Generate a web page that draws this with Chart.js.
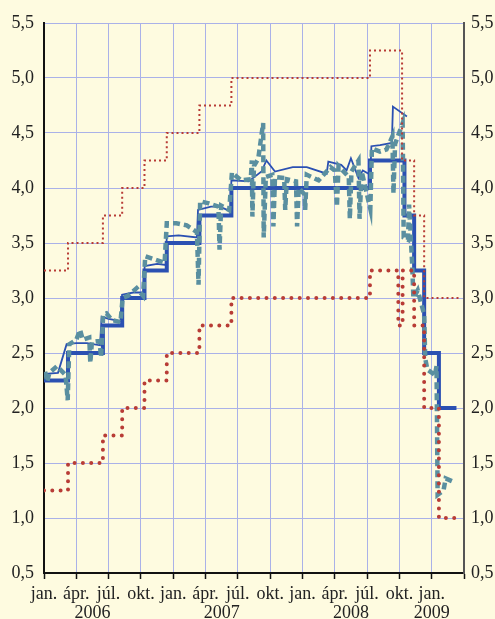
<!DOCTYPE html>
<html>
<head>
<meta charset="utf-8">
<script src="https://cdn.jsdelivr.net/npm/chart.js@4.4.0/dist/chart.umd.min.js"></script>
<style>
  html, body { margin: 0; padding: 0; background: #fefbe0; }
</style>
</head>
<body>
<canvas id="chart" width="495" height="619"></canvas>
<script>
// x values are months since 1 Jan 2006
var monthNames = ['jan.', 'ápr.', 'júl.', 'okt.'];
var years = [2006, 2007, 2008, 2009];
var yTicks = [0.5, 1, 1.5, 2, 2.5, 3, 3.5, 4, 4.5, 5, 5.5];

// main refinancing rate (step)
var mroM = [0, 2.23, 5.47, 7.26, 9.33, 11.4, 14.43, 17.4, 30.27, 33.47, 34.37, 35.3, 36.67, 38.3];
var mroV = [2.25, 2.5, 2.75, 3.0, 3.25, 3.5, 3.75, 4.0, 4.25, 3.75, 3.25, 2.5, 2.0, 2.0];

// marginal lending facility (upper corridor)
var mlfM = [0, 2.23, 5.47, 7.26, 9.33, 11.4, 14.43, 17.4, 30.27, 33.25, 34.37, 35.3, 38.5];
var mlfV = [3.25, 3.5, 3.75, 4.0, 4.25, 4.5, 4.75, 5.0, 5.25, 4.25, 3.75, 3.0, 3.0];

// deposit facility (lower corridor)
var dfM = [0, 2.23, 5.47, 7.26, 9.33, 11.4, 14.43, 17.4, 30.27, 32.9, 33.3, 34.37, 35.3, 36.67, 38.2];
var dfV = [1.25, 1.5, 1.75, 2.0, 2.25, 2.5, 2.75, 3.0, 3.25, 2.75, 3.25, 2.75, 2.0, 1.0, 1.0];

// marginal tender rate (thin line)
var mrgM = [0.1, 1.3, 2.1, 3.0, 4.0, 5.2, 5.35, 6.0, 7.1, 7.25, 8.3, 9.2, 9.35, 10.5, 11.3, 11.4, 12.5, 14.2, 14.3, 15.5,
            16.3, 17.3, 17.4, 19.0, 20.2, 20.65, 21.45, 23.1, 24.4, 26.25, 26.4, 27.6, 28.1, 28.5, 29.2, 29.6, 30.3, 30.4, 31.2, 32.3,
            32.4, 33.7];
var mrgV = [2.31, 2.32, 2.58, 2.59, 2.59, 2.57, 2.83, 2.81, 2.79, 3.03, 3.05, 3.05, 3.29, 3.31, 3.30, 3.56, 3.57, 3.55, 3.80, 3.83,
            3.83, 3.79, 4.07, 4.06, 4.15, 4.25, 4.15, 4.19, 4.19, 4.13, 4.24, 4.21, 4.16, 4.27, 4.09, 4.16, 4.12, 4.38, 4.39, 4.41,
            4.74, 4.65];

// overnight rate (dashed)
var eonM = [0.1, 0.3, 0.5, 1.2, 2.0, 2.2, 2.35, 3.0, 3.35, 3.6, 4.2, 4.3, 4.45, 5.15, 5.3, 5.5, 5.8, 6.3, 7.1, 7.3,
            7.8, 8.6, 9.2, 9.4, 10.3, 11.2, 11.4, 12.3, 13.25, 14.2, 14.35, 14.5, 15.3, 16.2, 16.3, 16.45, 17.2, 17.45, 18.3, 19.2,
            19.3, 19.35, 19.5, 19.9, 20.35, 20.4, 20.6, 21.2, 21.3, 21.45, 22.3, 22.4, 22.55, 23.4, 23.5, 23.65, 24.2, 24.25, 24.4, 25.5,
            26.6, 27.0, 27.2, 27.35, 28.3, 28.4, 28.55, 29.2, 29.3, 29.5, 30.3, 30.45, 31.2, 31.8, 32.35, 32.45, 32.6, 33.3, 33.4, 33.8,
            33.9, 34.2, 34.3, 34.7, 35.3, 35.4, 35.6, 36.3, 36.45, 36.55, 37.1, 37.3, 38.0];
var eonV = [2.33, 2.24, 2.32, 2.38, 2.30, 2.07, 2.58, 2.62, 2.71, 2.62, 2.64, 2.41, 2.60, 2.61, 2.46, 2.85, 2.86, 2.80, 2.78, 3.00,
            3.02, 3.09, 3.02, 3.38, 3.35, 3.32, 3.68, 3.68, 3.66, 3.60, 3.12, 3.88, 3.86, 3.83, 3.44, 3.84, 3.80, 4.14, 4.07, 4.08,
            4.25, 3.74, 4.20, 4.27, 4.59, 3.55, 4.10, 4.12, 3.65, 4.10, 4.09, 3.80, 4.08, 4.06, 3.65, 4.00, 3.94, 3.80, 4.12, 4.07,
            4.19, 4.16, 3.83, 4.20, 4.10, 3.72, 4.15, 4.25, 3.72, 4.15, 3.81, 4.36, 4.33, 4.35, 4.47, 3.95, 4.40, 4.59, 3.55, 3.53,
            3.85, 3.28, 3.00, 3.07, 2.85, 2.45, 2.35, 2.30, 2.38, 1.21, 1.25, 1.36, 1.33];

function pts(xs, ys) {
  return xs.map(function (m, i) { return { x: m, y: ys[i] }; });
}
function fmt(v) {
  return v.toFixed(1).replace('.', ',');
}

var red = '#b83c36';
var blue = '#2b50b2';
var teal = '#5a8fa0';
var gridColor = '#aab1e8';
var font = { family: '"Liberation Serif", "Times New Roman", serif', size: 18 };

var yearLabels = {
  id: 'yearLabels',
  afterDraw: function (chart) {
    var xs = chart.scales.x;
    var ctx = chart.ctx;
    ctx.save();
    ctx.font = '18px "Liberation Serif", serif';
    ctx.fillStyle = '#222';
    ctx.textAlign = 'center';
    ctx.textBaseline = 'alphabetic';
    years.forEach(function (yr) {
      var first = (yr - 2006) * 12;
      var last = Math.min(first + 9, 36);
      var cx = (xs.getPixelForValue(first) + xs.getPixelForValue(last)) / 2;
      ctx.fillText(String(yr), cx, 618);
    });
    ctx.restore();
  }
};

var ctx = document.getElementById('chart').getContext('2d');
var chart = new Chart(ctx, {
  type: 'line',
  data: {
    datasets: [
      { data: pts(dfM, dfV), stepped: true, borderColor: red, borderWidth: 4, borderDash: [0, 8.3],
        borderCapStyle: 'round', pointRadius: 0, order: 0 },
      { data: pts(mlfM, mlfV), stepped: true, borderColor: red, borderWidth: 2, borderDash: [2, 3],
        pointRadius: 0, order: 1 },
      { data: pts(eonM, eonV), borderColor: teal, borderWidth: 4.5, borderDash: [7, 4],
        pointRadius: 0, tension: 0, order: 2 },
      { data: pts(mrgM, mrgV), borderColor: blue, borderWidth: 1.8, pointRadius: 0, tension: 0, order: 3 },
      { data: pts(mroM, mroV), stepped: true, borderColor: blue, borderWidth: 4, pointRadius: 0, order: 4 }
    ]
  },
  options: {
    responsive: false,
    animation: false,
    devicePixelRatio: 1,
    layout: { padding: { top: 23, left: 0, right: 0, bottom: 0 } },
    plugins: { legend: { display: false }, tooltip: { enabled: false } },
    scales: {
      x: {
        type: 'linear', min: 0, max: 39,
        afterFit: function (s) { s.height = 46; },
        ticks: {
          stepSize: 3, autoSkip: false, maxRotation: 0, padding: 4, color: '#222', font: font,
          callback: function (v) { return v >= 39 ? '' : monthNames[(v % 12) / 3]; }
        },
        grid: { color: gridColor, lineWidth: 1, tickLength: 6, tickColor: '#111', tickWidth: 1.5 },
        border: { color: '#111', width: 2 }
      },
      y: {
        position: 'left', min: 0.5, max: 5.5,
        afterFit: function (s) { s.width = 44; },
        afterBuildTicks: function (s) { s.ticks = yTicks.map(function (v) { return { value: v }; }); },
        ticks: { padding: 10, color: '#222', font: font, callback: function (v) { return fmt(v); } },
        grid: { color: gridColor, lineWidth: 1, drawTicks: false },
        border: { color: '#111', width: 2 }
      },
      y2: {
        position: 'right', min: 0.5, max: 5.5,
        afterFit: function (s) { s.width = 31; },
        afterBuildTicks: function (s) { s.ticks = yTicks.map(function (v) { return { value: v }; }); },
        ticks: { padding: 7, color: '#222', font: font, callback: function (v) { return fmt(v); } },
        grid: { drawOnChartArea: false, drawTicks: false },
        border: { color: '#555', width: 2 }
      }
    }
  },
  plugins: [yearLabels]
});
</script>
</body>
</html>
